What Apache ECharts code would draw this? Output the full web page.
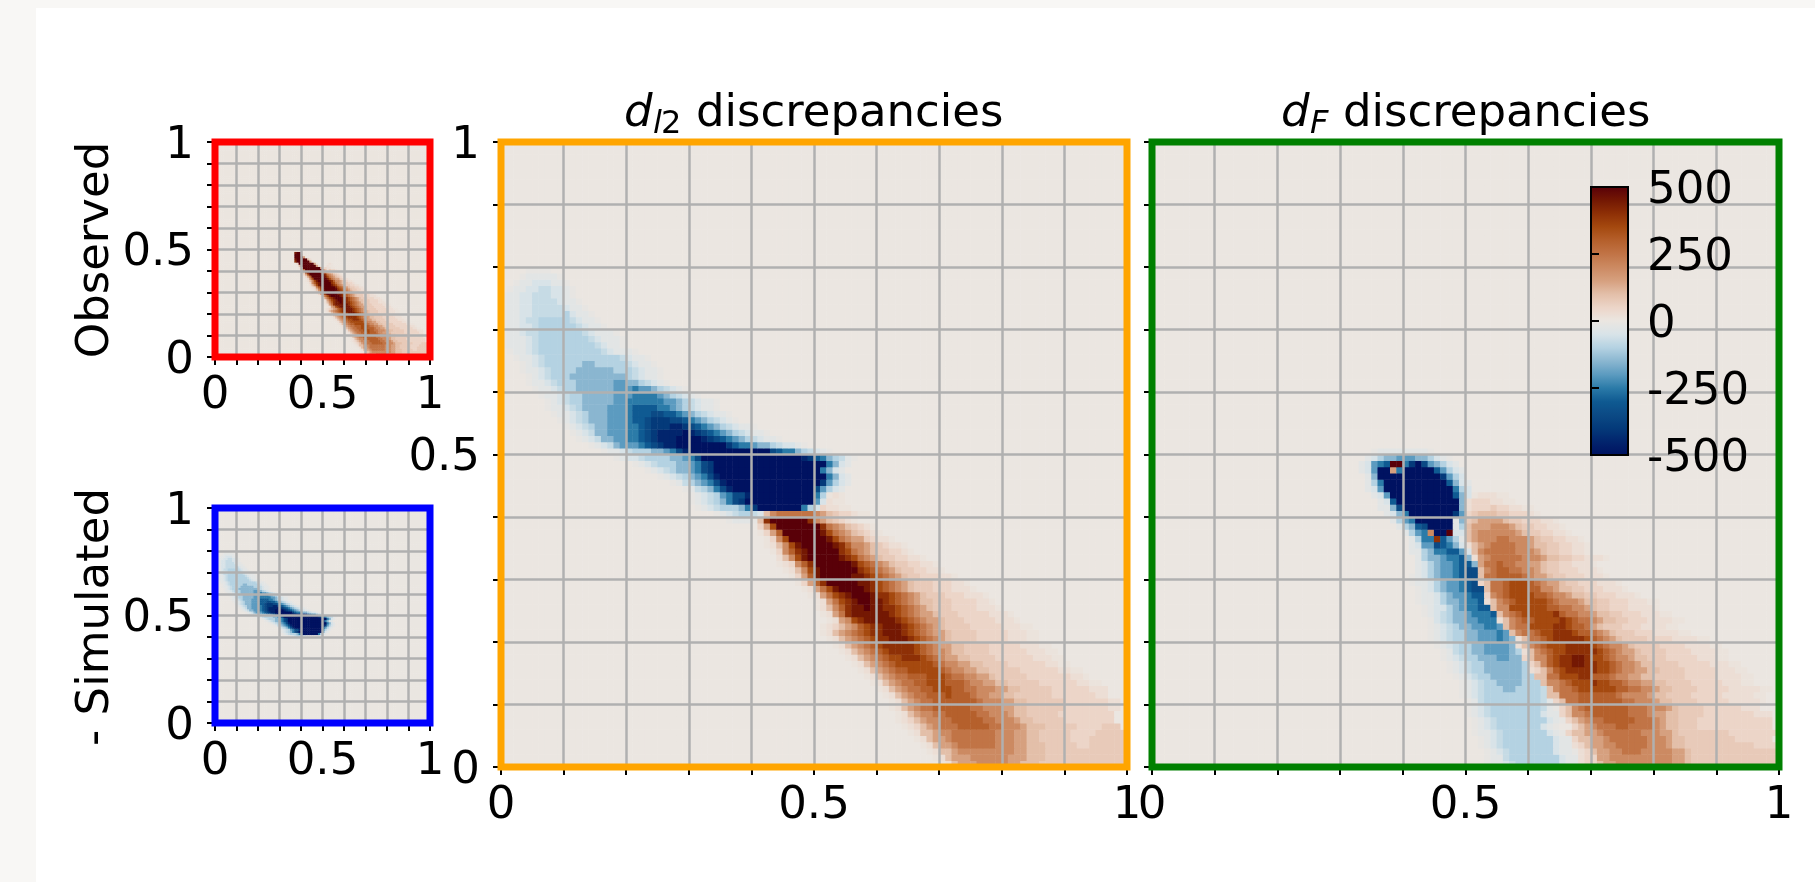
<!DOCTYPE html>
<html>
<head>
<meta charset="utf-8">
<script src="https://cdn.jsdelivr.net/npm/echarts@6/dist/echarts.min.js"></script>
<style>
html,body{margin:0;padding:0;background:#f8f7f5;overflow:hidden}
#sheet{position:absolute;left:36px;top:8px;right:0;bottom:0;background:#fff}
#chart{position:absolute;left:0;top:0;width:1815px;height:882px}
</style>
</head>
<body>
<div id="sheet"></div>
<div id="chart"></div>
<script>
// Level letters: A..J = -50..-500, a..j = +50..+500; finer marks in levelMarks
const coldLetters = "ABCDEFGHIJ";
const warmLetters = "abcdefghij";
const levelStep = 50;
const levelMarks = {"_":-10,"-":-25,":":-75,"~":10,"+":25,";":75};

// each row: [row from bottom, first column, levels]
const simulatedRows = [
[79,4,"____"],[78,3,"_-----_"],[77,2,"_--AAA--_"],[76,1,"_--AA::AA-_"],[75,0,"_--AA:::AA-_"],
[74,0,"_--AA::::A--_"],[73,0,"_--AA:::::A--_"],[72,0,"_--AA:::::BA--_"],[71,0,"_--A::BBBBB:A--_"],
[70,0,"_--AA:BBBBBB:A--_"],[69,0,"_--A::BBBBBBB:A---_"],[68,0,"_---A:BBBBBBBB:A---_"],
[67,0,"_---A:BBBBBBBBB:A--_"],[66,1,"_--A:BBBBBBBBBB:A---_"],[65,2,"_--A:BBBBBBBBBBBB:A--_"],
[64,3,"_-A:BBBBBBCCBBBBB:A--_"],[63,3,"_--A:BBBBCCCCCCBBB:A--_"],[62,4,"_-A:BBBCCCCCCCCCB:A--_"],
[61,4,"_--A:BBBCCCCCCDDCCB:A-_"],[60,5,"_--A:BBCCCCCCDDDEDDCB:A-_"],[59,6,"_--A:BBCCCCCDDDEEEEDCB:A-_"],
[58,7,"_-A:BBCCCCCDDEEEEEEDDCB:A--_"],[57,7,"_--A:BCCCCDDDEFFFFEEDCB:A--_"],
[56,8,"_--A:BCCCDDDEFFFGGFFEDCB:A--_"],[55,9,"_-A:BCCCDDDEFFGHHHGGFEDCB:A-_"],
[54,10,"_-A:BCCDDDEEFGHHHIIHGFEDCB:A--_"],[53,11,"_-A:CCDDDEEFGHIIIIJIHGFEDCB:A--_"],
[52,12,"_-A:CCDDEEFGHIIIJJJJIHGFEDCB:A--_"],[51,14,"_-A:CDDDEFGHIIJJJJJJJJHFEEDCCB:AA-_"],
[50,16,"_--A:BBBCCDEGIJJJJJJJJJJJJJGFEECB:A-_"],[49,18,"_-AA:BBBBCCDEGJJJJJJJJJJJJJJJJIHFECB:-_"],
[48,21,"_-A:BBBCCDEGHJJJJJJJJJJJJJJJJJJECA-"],[47,23,"_-A:BCCDEGHJJJJJJJJJJJJJJJJJECA-"],
[46,25,"_-A:BCDEGIJJJJJJJJJJJJJJJJJECA-"],[45,27,"_-:BCDEGIJJJJJJJJJJJJJJJHDBA-"],
[44,29,"_-:BCEGIJJJJJJJJJJJJJGDBA-"],[43,30,"_-A:BDEGGIJJJJJJJJJJEBA-"],
[42,30,"_-A:BCEGHJJJJJJJJJJJDA-"],[41,31,"_-A:BBBCEHJJJJJJJEBA-"],[40,34,"_-A:BB:A-"],[39,36,"_---_"]
];

const brownRows = [
[43,52,"~+~"],[42,52,"+~~"],[41,51,"a++~~"],[40,42,"bdeeeeeedcb;aa+~~"],
[39,41,"bhjjjjjjhdcb;a+~"],[38,41,"acgjjjjjjjhedcb;a+~"],[37,41,"~acfjjjjjjigedcb;a+~"],
[36,42,"~adgjjjjjjigedcc;a++~"],[35,42,"~+bdgijjjjjihfddcb;a++~"],[34,43,"~adfhijjjjjhgedcb;;aa+~"],
[33,44,"+bdgijjjjjihgedcb;;aa++~"],[32,44,"~+adfhjjjjjjigfedcb;;aa++~"],[31,45,"~+bdgijjjjjjhgfedcb;;aa++~"],
[30,46,"~acfijjjjjiihgfedcb;;aaa++~"],[29,47,"~acfhjjjjjiihgfedcb;;;aaa++~"],[28,48,"~+cegijjjjihgfedcb;;;aaa+++~"],
[27,49,"~+ceghijjjihhgfedcb;;;aaa+++~"],[26,50,"~+ceghijjiihgfedcbb;;;aaaa++~"],[25,50,"~+bdfhiijiihhgfedcb;;;aaaa+++~"],
[24,51,"~+cehiiiiiihgfedccb;;;aaaaa+++~"],[23,52,"~+cdghiiiiihgfedccb;;;aaaaa+++~"],[22,51,"~+abcdfghhiiihgfedcb;;;;aaaaa+++~~"],
[21,51,"~+bcdefghhiiihgfedccb;;;;aaaaa+++~~"],[20,52,"~+bcdefghhiiihgfedcb;;;;aaaaa+++~~"],[19,53,"~+bcdefghhhhhgfedccbb;;;;aaaaa+++~~"],
[18,54,"~+bcdefghhhhgfeddcbb;;;;aaaaaa+++~~"],[17,55,"~+bcdefgghhhgfedccbb;;;;aaaaaa+++~~"],[16,56,"~+bcdefggggggfeddccbb;;;;aaaaaa++~~"],
[15,57,"~+bcdeffgggggfeddccbb;;;;;aaaaaa++~~"],[14,58,"~+bcdeefffgggfeeddccb;;;;;aaaaaaa++~"],[13,59,"~+bcdeeffgggfffeddccbb;;;;;aaaaaa++~~"],
[12,60,"~+bcdeeffgggffeedddccbb;;;;;aaaaaa+++"],[11,61,"~+bcdeefffgfffeddccbb;;;;;;aaaaaaa++"],[10,62,"~+bcdeefffffffedddccbb;;;;;;aaaaaaa++"],
[9,62,"~+bcdeeffffffeedddccbb;;;;;;aaaaaaa++"],[8,63,"~+bcddeefffffeedddcbb;;;;;aaaaaaaaa"],[7,63,"~+abcddeefffffeedddcbb;;;;;aaaaaaaa"],
[6,64,"~+abcdeeefffffeedddcbbb;;;;;aaaa;;;"],[5,65,"~+bbcddeeeeeeedddccbb;;;;;aaaa;;;;;"],[4,66,"~+bccdeeeeeeedddccbb;;;;;aaa;;;;;;"],
[3,67,"~+bccdeeeeeedddccbbb;;;;;aa;;;;;;;"],[2,68,"~+bbcdddddddddccbbb;;;;;;;;;;;;;;;"],[1,69,"~+bcccddddddcccbbb;;;;;;;;;;;;;;"],
[0,70,"~+bcccdddddccbbb;;;;;;;;;;;;;;"]
];

const observedTipRows = [
[48,37,"ijja"],[47,37,"jjjb"],[46,37,"jjjjc"],[45,37,"ijjjjjb+"],[44,37,"hjjjjjjc+"],
[43,38,"ajjjjjjjc+"],[42,39,"bjjjjjjjc+"],[41,39,"+djjjjjjjjc+"],[40,40,"bejjjjjjjjeb+"]
];

const fBlueRows = [
[50,35,"_--------_"],[49,34,"-ABCCDDDCCBA-_"],[48,33,"-ADEFjjEHJGDCBA-"],[47,33,"-ADJJcEJJJJJFDBA-"],
[46,34,"-CJJJJJJJJJJHDBA"],[45,34,"-BEJJJJJJJJJJFCA-"],[44,34,"-ADJJJJJJJJJJJEBA"],[43,35,"-ADJJJJJJJJJJFCA"],
[42,36,"-AFJJJJJJJJJJCA"],[41,36,"--CGJJJJJJJJJCA"],[40,37,"-ACEJJJJJJJHDA"],[39,38,"-BDEJJJJJJ-CA"],
[38,39,"-BCFGJJJJ-BA"],[37,40,"-BDEdJJjAA"],[36,41,"-BEEhFDB-"],[35,41,"-ADDGFECA"],[34,41,"--BCEEFFDA-"],
[33,42,"-BCCDEEFCA-"],[32,42,"-ABCDDEFFCA"],[31,42,"-ABCDDEFGGA"],[30,41,"_-ABCDDEFGGA"],[29,41,"_--ABCDDEFGFA"],
[28,42,"_-ABCDDEFGGA"],[27,42,"_--ABCDDEFFFA"],[26,42,"_--ABCCDEEFFA"],[25,43,"_-AABCDEEFFA-"],[24,43,"_-A:BCCDEEEFCA"],
[23,44,"_A:BCCDDEEEDA-"],[22,44,"_-A:BCCDDEEDCA-"],[21,44,"_-A:BBCCDDDEDCA_"],[20,44,"_-A:BBCCDDDEDCA-"],[19,45,"_-A:BBCCDDDDCB:-"],
[18,46,"_-:BBCCDDDDCB:-"],[17,46,"_-A:BBCCCDDCCB:-"],[16,47,"_-A:BBCCCCCCBB:-"],[15,47,"_-A:BBCCCCCCBB:-"],[14,48,"_-A:BBCCCCCBB:-"],
[13,49,"_-A:BBCCCCBBB:-"],[12,49,"_-A:BBBCCBBBB:-"],[11,49,"_-A:BBBBBBBBB:-"],[10,50,"_-:BBBBBBBBB:-_"],[9,50,"_-A:BBBBBBBB:-_"],
[8,50,"_-A:BBBBBBBBA--"],[7,51,"_-A:BBBBBBBBA-_"],[6,51,"_-A:BBBBBBBA-_"],[5,51,"_--A:BBBBBBBA-_"],[4,52,"_-A:BBBBBBBBA--_"],
[3,52,"_-A:BBBBBBBBA--_"],[2,53,"_-A:BBBBBBBA--_"],[1,53,"_--:BBBBBBBBA--_"],[0,53,"_--A:BBBBBBBA--_"]
];

const fBrownRows = [
[43,51,"~+++~~"],[42,50,"+aaa++~~"],[41,50,"+aaa;aa++~~"],[40,50,"a;bbb;;aaa+~"],[39,50,";bccccb;;aaa++~"],
[38,50,"bcccdddcb;;aa++~"],[37,50,"bcddddddcb;;aa++~"],[36,50,"bcdddeedddcb;;aa++~"],[35,50,"+bcdeeeeddcbb;;aa++~"],
[34,51,"bdeeeeedddcb;;aa++~"],[33,51,"+cdeeeeedddcbb;;aa+++~"],[32,52,"ceefeeddccb;;aa+++~"],[31,52,"bdeffeeddcb;;aaa+++~"],
[30,52,"beeffffedccb;;aaa+++~"],[29,52,"abeefgggfedccb;;aaa+++~"],[28,53,"beefgggffddcbb;;aaa+++~"],[27,53,"adefggggffeddcbb;;aaa+++~"],
[26,53,"+bdefgggggfedddcbb;;aaa+++~~"],[25,54,"bddggggggffeeddcb;;aaa++++~"],[24,55,"bdefggggghfeeddcbb;;aaa+++~~"],
[23,55,"+bdeffgggghgfeedcbb;;aaa++++~~"],[22,56,"bdeegggghhgffecb;;;aaa++++~~"],[21,57,"bdeefgghhhgffedcb;;;aaa++++~~"],
[20,58,"+beefghhhhhgfedcb;;;;aaaa++++~~"],[19,58,"+bdefggghhhhgfeddcb;;;;aaaa++++~~"],[18,59,"+bdefgghhhhhgfedccb;;;;aaaa++++~~"],
[17,59,"abddfghhiihggfeddcbb;;;aaaaa+++~~"],[16,60,"abdfghhiihhggfeddcbb;;;;aaaaa+++~~"],[15,60,"+abdfghhhhhggfeddccbb;;;;aaaaa+++~~"],
[14,61,"bbeeggghhfffeddccbb;;;;;aaaaa++++~~"],[13,62,"bddefggghggffeddccbb;;;;aaaaa+++~~"],[12,63,"bdeefggggggffeeddcbb;;;;aaaaa+++++~~"],
[11,63,"bbeeeffffffeddddcbb;;;;aaaaa+++++~~"],[10,64,"abeefffffffeedddcbb;;;;aaaaa+++++~"],[9,65,"abdefffffffeeedddcb;;;;aaaaaa+++"],
[8,65,"abddeffffffeeedccbb;;;;aaaaaaaa+++"],[7,66,"abcdeefffffeeedcbb;;;aaaaaaaaaaaa"],[6,67,"abcdeeeffeeeedcbb;;;aaaaaaaaaaaa"],
[5,66,"abbccdeeeeeedddccb;;;;;;;;aaaaaaaa"],[4,67,"abbccdeeeeeedddcbb;;;;;;;;aaaaaa"],[3,67,"+abccddeeeeedddcbb;;;;;;;;;;;aaaa"],
[2,68,"+abccddeeedddddccb;;;;;;;;;;;;;;"],[1,68,"+aaccddddddddddccb;;;;;;;;;;;;;;"],[0,68,"+aabccdddddddddccb;;;;;;;;;;;;;;"]
];

const colormapColors = ["#001261","#02256d","#043a7a","#0b4a85","#0f5a92","#2b7ba8","#5c9bc0","#8ab6d0","#b4d2e2","#d8e3e8",
"#ebe6e1","#ecd5c8","#e3bfa9","#d6a07f","#cc8a62","#c17446","#b5602c","#a5490f","#8e3006","#741803","#590008"];
const unitTickLabels = ["0","","","","","0.5","","","","","1"];
const colorbarTicks = {"500":"500","250":"250","0":"0","-250":"-250","-500":"-500"};
const colorRange = [-500,500];
const gridSize = 100;

function levelValue(ch){
  if(ch in levelMarks) return levelMarks[ch];
  let k=warmLetters.indexOf(ch);
  if(k>=0) return (k+1)*levelStep;
  k=coldLetters.indexOf(ch);
  if(k>=0) return -(k+1)*levelStep;
  return 0;
}
function buildCells(rowSets,base){
  const field=[];
  for(let r=0;r<gridSize;r++){field.push(new Array(gridSize).fill(base));}
  rowSets.forEach(set=>set.forEach(([r,c,s])=>{
    for(let i=0;i<s.length;i++){ if(c+i<gridSize) field[r][c+i]=levelValue(s[i]); }
  }));
  const out=[];
  for(let r=0;r<gridSize;r++)for(let c=0;c<gridSize;c++)out.push([c,r,field[r][c]]);
  return out;
}

const observedCells = buildCells([brownRows,observedTipRows],4);
const simulatedCells = buildCells([simulatedRows],-3);
const l2Cells = buildCells([simulatedRows,brownRows],0);
const fCells = buildCells([fBlueRows,fBrownRows],1);

const panels=[
 {rect:[215,142,215,215],color:"#ff0000",cells:observedCells,yLabels:true},
 {rect:[215,508,215,215],color:"#0000ff",cells:simulatedCells,yLabels:true},
 {rect:[501,142,626,625],color:"#ffa500",cells:l2Cells,yLabels:true},
 {rect:[1152,142,627,625],color:"#008000",cells:fCells,yLabels:false}
];
const cbar=[1591,187,37,268];
const FONT='"DejaVu Sans"';
const categories=[];for(let i=0;i<gridSize;i++)categories.push(String(i));
const tickStyle={fontSize:45,fontFamily:FONT,color:"#000"};
const loweredRich={low:Object.assign({padding:[8,0,0,0]},tickStyle)};
const lowered=s=>s?"{low|"+s+"}":"";

const grid=[],xAxis=[],yAxis=[],series=[],graphic=[];
panels.forEach((p,i)=>{
  grid.push({left:p.rect[0],top:p.rect[1],width:p.rect[2],height:p.rect[3],containLabel:false});
  xAxis.push({type:"category",gridIndex:i,data:categories,show:false});
  yAxis.push({type:"category",gridIndex:i,data:categories,show:false});
  const common=(showLabel,margin)=>({
    type:"value",gridIndex:i,min:0,max:1,interval:0.1,z:5,silent:true,
    axisLine:{show:false},
    axisTick:{show:true,length:8,lineStyle:{color:"#000",width:2}},
    splitLine:{show:true,lineStyle:{color:"#b0b0b0",width:2.5}},
    axisLabel:Object.assign({show:showLabel,margin:margin,hideOverlap:false,showMinLabel:true,showMaxLabel:true},tickStyle)
  });
  const xa=common(true,17); xa.position="bottom"; xa.axisLabel.formatter=v=>unitTickLabels[Math.round(v*10)];
  const ya=common(p.yLabels,21); ya.position="left"; ya.axisLabel.rich=loweredRich; ya.axisLabel.formatter=v=>lowered(unitTickLabels[Math.round(v*10)]);
  xAxis.push(xa); yAxis.push(ya);
  series.push({type:"heatmap",xAxisIndex:i*2,yAxisIndex:i*2,data:p.cells,silent:true,progressive:0,z:2,emphasis:{disabled:true},itemStyle:{borderWidth:0}});
  graphic.push({type:"rect",z:100,silent:true,shape:{x:p.rect[0],y:p.rect[1],width:p.rect[2],height:p.rect[3]},style:{stroke:p.color,lineWidth:7,fill:"transparent"}});
});
// colour bar axis
grid.push({left:cbar[0],top:cbar[1],width:cbar[2],height:cbar[3]});
xAxis.push({type:"value",gridIndex:4,show:false,min:0,max:1});
yAxis.push({type:"value",gridIndex:4,min:colorRange[0],max:colorRange[1],interval:250,position:"right",z:12,silent:true,
  axisLine:{show:false},splitLine:{show:false},
  axisTick:{show:true,length:8,lineStyle:{color:"#000",width:2}},
  axisLabel:Object.assign({margin:19,hideOverlap:false,showMinLabel:true,showMaxLabel:true,rich:loweredRich,formatter:v=>lowered(colorbarTicks[String(v)])},tickStyle)
});
graphic.push({type:"rect",z:100,silent:true,shape:{x:cbar[0],y:cbar[1],width:cbar[2],height:cbar[3]},style:{stroke:"#000",lineWidth:2,fill:"transparent"}});

function txt(text,x,y,font){
  return {type:"text",z:100,silent:true,x:x,y:y,style:{text:text,font:font,fill:"#000",align:"left",verticalAlign:"top"}};
}
const reg='45px '+FONT, ital='italic 45px '+FONT, subIt='italic 32px '+FONT, subReg='32px '+FONT;
graphic.push(
  txt("d",624,92,ital), txt("l",653,109,subIt), txt("2",661,109,subReg), txt("discrepancies",696,92,reg),
  txt("d",1281,92,ital), txt("F",1310,109,subIt), txt("discrepancies",1343,92,reg)
);
graphic.push({type:"text",z:100,silent:true,x:96,y:250,rotation:Math.PI/2,style:{text:"Observed",font:reg,fill:"#000",align:"center",verticalAlign:"middle"}});
graphic.push({type:"text",z:100,silent:true,x:96,y:617,rotation:Math.PI/2,style:{text:"- Simulated",font:reg,fill:"#000",align:"center",verticalAlign:"middle"}});

const chart=echarts.init(document.getElementById("chart"),null,{renderer:"canvas"});
chart.setOption({
  animation:false,backgroundColor:"transparent",
  grid,xAxis,yAxis,series,graphic,
  visualMap:{type:"continuous",min:colorRange[0],max:colorRange[1],seriesIndex:[0,1,2,3],dimension:2,calculable:false,realtime:false,hoverLink:false,
    show:true,left:cbar[0],top:cbar[1],padding:0,itemWidth:cbar[2],itemHeight:cbar[3],text:null,showLabel:false,z:10,
    textStyle:{fontSize:0},
    inRange:{color:colormapColors}}
});
</script>
</body>
</html>
